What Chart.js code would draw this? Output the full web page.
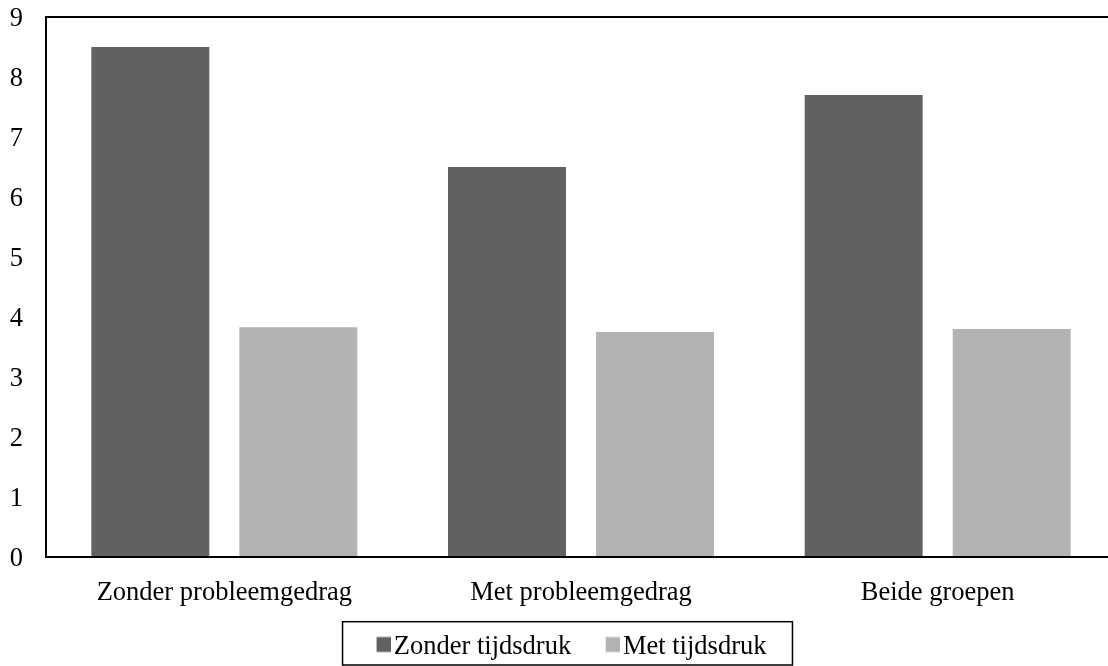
<!DOCTYPE html>
<html>
<head>
<meta charset="utf-8">
<script src="https://cdn.jsdelivr.net/npm/chart.js@4"></script>
<style>
  html, body { margin: 0; padding: 0; background: #fff; overflow: hidden; }
  #wrap { width: 1116px; height: 666px; }
</style>
</head>
<body>
<div id="wrap"><canvas id="myChart" width="1116" height="666"></canvas></div>
<script>
const categories = ['Zonder probleemgedrag', 'Met probleemgedrag', 'Beide groepen'];
const zonderTijdsdruk = [8.5, 6.5, 7.7];
const metTijdsdruk = [3.83, 3.75, 3.8];
const yTicks = [0, 1, 2, 3, 4, 5, 6, 7, 8, 9];

const font = { family: '"Liberation Serif", "Times New Roman", serif', size: 26.5 };

// vierkantje voor de legenda, rechts in het plaatje zodat het dicht bij de tekst staat
function legendSquare(color) {
  const c = document.createElement('canvas');
  c.width = 32;
  c.height = 26;
  const g = c.getContext('2d');
  g.fillStyle = color;
  g.fillRect(18, 2.5, 14, 15);
  return c;
}

// kader om plotgebied en legenda
const frames = {
  id: 'frames',
  afterLayout(chart) {
    chart.legend.left += 4.5;
    chart.legend.right += 4.5;
  },
  afterDraw(chart) {
    const { ctx, chartArea } = chart;
    ctx.save();
    ctx.strokeStyle = '#000';
    ctx.lineWidth = 2;
    ctx.strokeRect(chartArea.left, chartArea.top, chartArea.right - chartArea.left, chartArea.bottom - chartArea.top);
    const hb = chart.legend.legendHitBoxes;
    if (hb && hb.length) {
      const last = hb[hb.length - 1];
      const x0 = hb[0].left + 8 - 34;
      const x1 = last.left + last.width + 26;
      const cy = hb[0].top + 13.25;
      ctx.lineWidth = 1.5;
      ctx.strokeRect(x0, cy - 25.8, x1 - x0, 43.3);
    }
    ctx.restore();
  }
};

const data = {
  labels: categories,
  datasets: [
    { label: 'Zonder tijdsdruk', data: zonderTijdsdruk, backgroundColor: '#616161' },
    { label: 'Met tijdsdruk', data: metTijdsdruk, backgroundColor: '#b3b3b3' }
  ]
};

const myChart = new Chart(document.getElementById('myChart'), {
  type: 'bar',
  data,
  options: {
    responsive: false,
    animation: false,
    devicePixelRatio: 1,
    layout: { padding: { top: 17, left: 10, right: 0, bottom: -4.75 } },
    datasets: { bar: { categoryPercentage: 0.83, barPercentage: 0.797 } },
    scales: {
      x: {
        afterFit(scale) { scale.height = 50.75; },
        grid: { display: false },
        border: { display: false },
        ticks: { color: '#000', font, padding: 12, maxRotation: 0 }
      },
      y: {
        min: yTicks[0],
        max: yTicks[yTicks.length - 1],
        afterFit(scale) {
          scale.width = 36;
          scale.paddingTop = 0;
          scale.paddingBottom = 0;
        },
        grid: { display: false, drawTicks: false },
        border: { display: false },
        ticks: { color: '#000', font, padding: 23, stepSize: 1, autoSkip: false, labelOffset: 2 }
      }
    },
    plugins: {
      legend: {
        position: 'bottom',
        labels: {
          color: '#000',
          font,
          usePointStyle: true,
          pointStyleWidth: 12,
          padding: 26.5,
          generateLabels(chart) {
            const items = Chart.defaults.plugins.legend.labels.generateLabels(chart);
            items.forEach((it, i) => { it.pointStyle = legendSquare(chart.data.datasets[i].backgroundColor); });
            return items;
          }
        }
      },
      tooltip: { enabled: false }
    }
  },
  plugins: [frames]
});
</script>
</body>
</html>
